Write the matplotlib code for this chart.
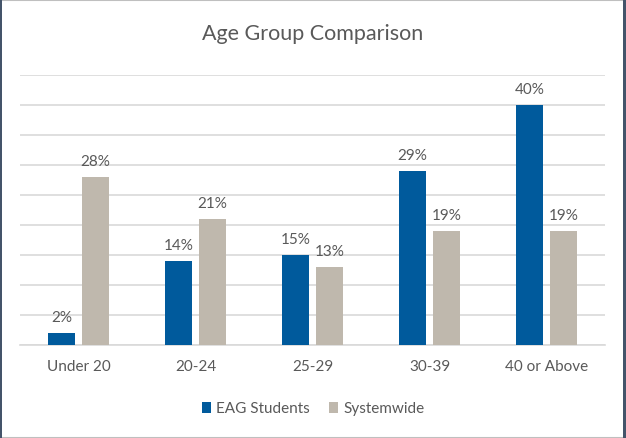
import numpy as np
import matplotlib.pyplot as plt
from matplotlib.patches import Rectangle

plt.rcParams['font.family'] = ['Lato', 'DejaVu Sans']

categories = ['Under 20', '20-24', '25-29', '30-39', '40 or Above']
eag_students = [2, 14, 15, 29, 40]
systemwide = [28, 21, 13, 19, 19]

blue = '#005A9C'
beige = '#BFB8AD'
text_col = '#595959'

W, H = 626, 438
fig = plt.figure(figsize=(W / 100, H / 100), dpi=100)
ax = fig.add_axes([20 / W, 93 / H, 585 / W, 270 / H])

x = np.arange(len(categories))
w = 0.23
off = 0.145
b1 = ax.bar(x - off, eag_students, w, color=blue, label='EAG Students', zorder=3)
b2 = ax.bar(x + off, systemwide, w, color=beige, label='Systemwide', zorder=3)

for bars in (b1, b2):
    for r in bars:
        ax.annotate(f'{int(r.get_height())}%', (r.get_x() + r.get_width() / 2, r.get_height()),
                    xytext=(0, 6), textcoords='offset points', ha='center', va='bottom',
                    fontsize=11, color=text_col)

ax.set_xlim(-0.5, len(categories) - 0.5)
ax.set_ylim(0, 45)
ax.set_yticks(np.arange(0, 46, 5))
ax.yaxis.grid(True, color='#D9D9D9', linewidth=1.2)
ax.set_axisbelow(True)
ax.tick_params(axis='y', left=False, labelleft=False)
ax.tick_params(axis='x', length=0, pad=11, labelsize=11, labelcolor=text_col)
ax.set_xticks(x)
ax.set_xticklabels(categories)
for s in ['top', 'right', 'left']:
    ax.spines[s].set_visible(False)
ax.spines['bottom'].set_color('#D9D9D9')
ax.spines['bottom'].set_linewidth(1.2)

fig.text(0.5, 1 - 34 / H, 'Age Group Comparison', ha='center', va='center', fontsize=15.5, color=text_col)

fig.legend(handles=[b1, b2], loc='center', bbox_to_anchor=(0.5, 1 - 409 / H), ncol=2, frameon=False,
           fontsize=11, labelcolor=text_col, handlelength=0.6, handleheight=0.7,
           handletextpad=0.3, columnspacing=1.3)

# frame around the chart
fig.patches.append(Rectangle((0, 0), 1, 1, transform=fig.transFigure,
                             fill=False, edgecolor='#BFBFBF', linewidth=1.5))
fig.patches.append(Rectangle((0, 0), 2 / W, 1, transform=fig.transFigure,
                             color='#44546A', linewidth=0))
fig.patches.append(Rectangle((1 - 3 / W, 0), 3 / W, 1, transform=fig.transFigure,
                             color='#44546A', linewidth=0))

fig.savefig('out.png', dpi=100)
